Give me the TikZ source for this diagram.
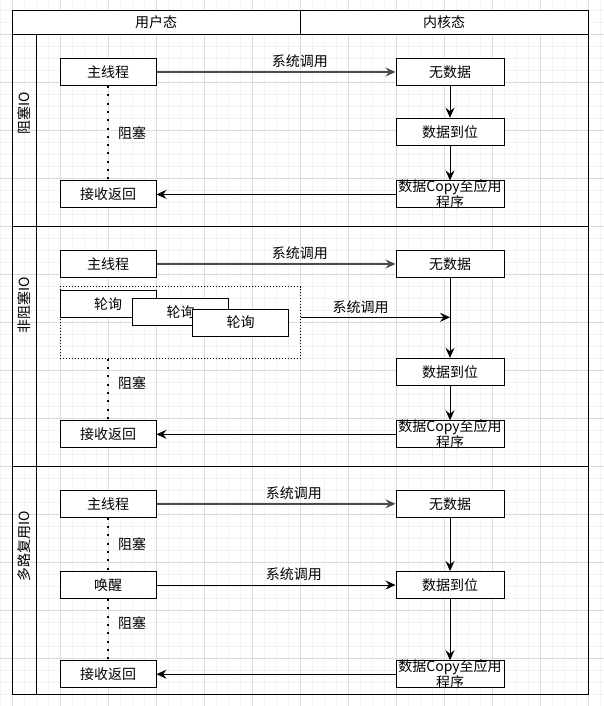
\documentclass[tikz,border=0pt]{standalone}
\usepackage{fontspec}
\newfontfamily\cjk{Noto Sans CJK SC}
\usetikzlibrary{arrows.meta,positioning}

\begin{document}
\begin{tikzpicture}[x=1pt,y=-1pt,
    every node/.style={font=\cjk\fontsize{14}{16}\selectfont},
    box/.style={draw, line width=1pt, fill=white, inner sep=0pt, minimum height=27pt},
    userbox/.style={box, minimum width=96pt},
    kernbox/.style={box, minimum width=108pt},
    copybox/.style={kernbox, label={[align=center, inner sep=0pt]center:数据Copy至应用\\程序}},
    call/.style={-{Stealth[length=10pt,width=9pt,inset=3.5pt]}, line width=1pt},
    mcall/.style={call, draw=black!70, line width=1.4pt},
    wait/.style={line width=2pt, dash pattern=on 2pt off 6.3pt},
    waitlbl/.style={right=7pt, inner sep=2pt}]

        \useasboundingbox (0,0) rectangle (604,706);

        % Background grid
        \foreach \x in {0,12,...,600}{
            \draw[black!5, line width=0.6pt] (\x,0) -- (\x,706);
          }
        \foreach \y in {10,22,...,706}{
            \draw[black!5, line width=0.6pt] (0,\y) -- (604,\y);
          }
        \foreach \x in {12,60,...,600}{
            \draw[black!14, line width=0.6pt] (\x,0) -- (\x,706);
          }
        \foreach \y in {34,82,...,706}{
            \draw[black!14, line width=0.6pt] (0,\y) -- (604,\y);
          }

        % Header
        \node[draw, line width=1pt, fill=white, inner sep=0pt, minimum width=288pt, minimum height=24pt] (hdrUser) at (156,22.3) {用户态};
        \node[draw, line width=1pt, fill=white, inner sep=0pt, minimum width=288pt, minimum height=24pt] (hdrKern) at (444,22.3) {内核态};

        % Lanes with their titles
        \foreach \i/\top/\bot/\name/\ly in {1/34.3/226.3/阻塞IO/113, 2/226.3/466.7/非阻塞IO/305, 3/466.7/694.3/多路复用IO/546}{
            \draw[line width=1pt] (12,\top) rectangle (588,\bot);
            \draw[line width=1pt] (36,\top) -- (36,\bot);
            \node[rotate=90] (lane\i) at (24,\ly) {\name};
          }

        % Lane 1: blocking
        \node[userbox] (main1) at (108,72) {主线程};
        \node[userbox] (recv1) at (108,194.4) {接收返回};
        \node[kernbox] (nodata1) at (450,72) {无数据};
        \node[kernbox] (ready1) at (450,131.7) {数据到位};
        \node[copybox] (copy1) at (450,194.4) {};

        \draw[mcall] (main1) -- node[above, pos=0.6] {系统调用} (nodata1);
        \draw[call] (nodata1) -- (ready1);
        \draw[call] (ready1) -- (copy1);
        \draw[call] (copy1) -- (recv1);
        \draw[wait] (main1.south) -- node[waitlbl] {阻塞} (recv1.north);

        % Lane 2: non-blocking
        \node[userbox] (main2) at (108,264) {主线程};
        \node[draw, line width=0.8pt, dash pattern=on 1pt off 2pt, inner sep=0pt, minimum width=240.7pt, minimum height=71.6pt] (poll) at (180.3,322.5) {};
        \node[userbox] (poll1) at (108,304.2) {轮询};
        \node[userbox] (poll2) at (180.7,311.8) {轮询};
        \node[userbox] (poll3) at (240.7,322.5) {轮询};
        \node[userbox] (recv2) at (108,434.3) {接收返回};
        \node[kernbox] (nodata2) at (450,264) {无数据};
        \node[kernbox] (ready2) at (450,371.8) {数据到位};
        \node[copybox] (copy2) at (450,434.3) {};
        \coordinate (hit2) at ([yshift=5.2pt]poll.east -| nodata2.south);

        \draw[mcall] (main2) -- node[above, pos=0.6] {系统调用} (nodata2);
        \draw[call] ([yshift=5.2pt]poll.east) -- node[above, pos=0.4] {系统调用} (hit2);
        \draw[call] (nodata2) -- (ready2);
        \draw[call] (ready2) -- (copy2);
        \draw[call] (copy2) -- (recv2);
        \draw[wait] (poll.south -| recv2.north) -- node[waitlbl, pos=0.4] {阻塞} (recv2.north);

        % Lane 3: multiplexing
        \node[userbox] (main3) at (108,503.8) {主线程};
        \node[userbox] (wake3) at (108,585) {唤醒};
        \node[userbox] (recv3) at (108,674.2) {接收返回};
        \node[kernbox] (nodata3) at (450,503.8) {无数据};
        \node[kernbox] (ready3) at (450,585) {数据到位};
        \node[copybox] (copy3) at (450,674.2) {};

        \draw[mcall] (main3) -- node[above, pos=0.575] {系统调用} (nodata3);
        \draw[call] (wake3) -- node[above, pos=0.575] {系统调用} (ready3);
        \draw[call] (nodata3) -- (ready3);
        \draw[call] (ready3) -- (copy3);
        \draw[call] (copy3) -- (recv3);
        \draw[wait] (main3.south) -- node[waitlbl] {阻塞} (wake3.north);
        \draw[wait] (wake3.south) -- node[waitlbl, pos=0.4] {阻塞} (recv3.north);
      \end{tikzpicture}
\end{document}
